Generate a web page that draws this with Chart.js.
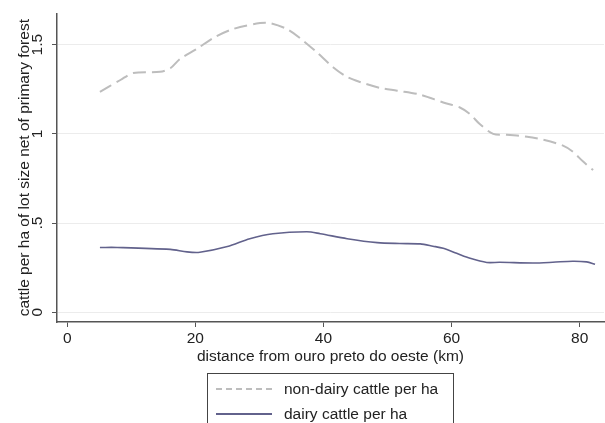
<!DOCTYPE html>
<html>
<head>
<meta charset="utf-8">
<script src="https://cdn.jsdelivr.net/npm/chart.js@4"></script>
<style>
  html, body { margin: 0; padding: 0; background: #fff; }
  #wrap { position: relative; width: 605px; height: 423px; overflow: hidden; }
  #legend {
    position: absolute; left: 207px; top: 373px; width: 245px; height: 70px;
    border: 1px solid #444; font: 15.5px "Liberation Sans", Arial, sans-serif; color: #222;
  }
  .item { position: absolute; left: 8px; height: 18px; line-height: 18px; }
  .swatch { position: absolute; left: 0; top: 8px; width: 56px; }
  .item span { position: absolute; left: 68px; white-space: nowrap; top: 0; }
</style>
</head>
<body>
<div id="wrap">
  <canvas id="wykres" width="605" height="423"></canvas>
  <div id="legend"></div>
</div>
<script>
// dane
const xNonDairy = [5.1, 8.3, 10.3, 14.5, 16.1, 17.6, 20.3, 22.8, 25.9, 30.1, 31.7, 34.3, 36.3, 39.0, 41.5, 43.7, 45.7, 48.8, 51.5, 55.1, 58.7, 61.3, 62.9, 64.4, 66.5, 68.6, 71.8, 74.3, 77.4, 78.9, 80.5, 82.1];
const nonDairy = [1.236, 1.302, 1.341, 1.348, 1.368, 1.420, 1.478, 1.538, 1.588, 1.621, 1.621, 1.588, 1.538, 1.456, 1.374, 1.319, 1.291, 1.258, 1.242, 1.220, 1.176, 1.148, 1.110, 1.055, 1.000, 0.995, 0.984, 0.967, 0.934, 0.901, 0.846, 0.797];
const xDairy = [5.1, 7.8, 16.1, 18.7, 20.7, 25.0, 28.5, 32.1, 37.4, 39.5, 43.7, 48.4, 51.9, 55.1, 57.1, 58.7, 60.8, 62.9, 65.5, 67.5, 72.7, 75.8, 78.9, 81.1, 82.4];
const dairy = [0.363, 0.363, 0.352, 0.338, 0.336, 0.368, 0.412, 0.440, 0.451, 0.440, 0.412, 0.390, 0.385, 0.383, 0.370, 0.358, 0.330, 0.302, 0.279, 0.280, 0.276, 0.280, 0.286, 0.282, 0.269];
const seriesLabels = ['non-dairy cattle per ha', 'dairy cattle per ha'];
const xTicks = [0, 20, 40, 60, 80];
const yTicks = [0, 0.5, 1, 1.5];
const yTickLabels = ['0', '.5', '1', '1.5'];
const xTitle = 'distance from ouro preto do oeste (km)';
const yTitle = 'cattle per ha of lot size net of primary forest';

function toPoints(xs, ys) {
    let pts = [];
    for (let i = 0; i < xs.length; i++) {
        pts = [...pts, { x: xs[i], y: ys[i] }];
    }
    return pts;
}

const font = { family: '"Liberation Sans", Arial, sans-serif', size: 15.5 };
const axisColor = '#555';
const dashColor = '#bdbdbd';
const solidColor = '#62628c';

const ctx = document.getElementById('wykres').getContext('2d');
window.chart = new Chart(ctx, {
    type: 'line',
    data: {
        datasets: [{
            label: seriesLabels[0],
            data: toPoints(xNonDairy, nonDairy),
            borderColor: dashColor,
            borderWidth: 2,
            borderDash: [13, 6],
            pointRadius: 0,
            tension: 0.3,
            fill: false
        }, {
            label: seriesLabels[1],
            data: toPoints(xDairy, dairy),
            borderColor: solidColor,
            borderWidth: 1.6,
            pointRadius: 0,
            tension: 0.3,
            fill: false
        }]
    },
    options: {
        responsive: false,
        animation: false,
        layout: { padding: { top: 7, right: 1, bottom: 57, left: 0 } },
        plugins: { legend: { display: false }, tooltip: { enabled: false } },
        scales: {
            x: {
                type: 'linear',
                min: -1.6,
                max: 83.8,
                afterBuildTicks: s => { s.ticks = xTicks.map(v => ({ value: v })); },
                afterFit: s => { s.height = 44; },
                grid: { drawOnChartArea: false, drawTicks: true, tickLength: 5, tickColor: axisColor },
                border: { color: axisColor, width: 1.5 },
                ticks: { font: font, color: '#222', padding: 2, maxRotation: 0 },
                title: { display: true, text: xTitle, font: font, color: '#222', padding: { top: 0, bottom: 0 } }
            },
            y: {
                type: 'linear',
                min: -0.055,
                max: 1.676,
                afterBuildTicks: s => { s.ticks = yTicks.map(v => ({ value: v })); },
                afterFit: s => { s.width = 57; },
                grid: { color: '#ececec', lineWidth: 1, drawTicks: true, tickLength: 5, tickColor: axisColor },
                border: { color: axisColor, width: 1.5 },
                ticks: {
                    font: font, color: '#222', padding: 4, minRotation: 90, maxRotation: 90, crossAlign: 'center',
                    callback: (v) => yTickLabels[yTicks.indexOf(v)]
                },
                title: { display: true, text: yTitle, font: font, color: '#222', padding: { top: 15, bottom: 0 } }
            }
        }
    }
});

// legenda w HTML
const legend = document.getElementById('legend');
const styles = ['2px dashed ' + dashColor, '2px solid ' + solidColor];
const tops = [6, 31];
for (let i = 0; i < seriesLabels.length; i++) {
    const item = document.createElement('div');
    item.className = 'item';
    item.style.top = tops[i] + 'px';
    const sw = document.createElement('div');
    sw.className = 'swatch';
    sw.style.borderTop = styles[i];
    const tx = document.createElement('span');
    tx.textContent = seriesLabels[i];
    item.appendChild(sw);
    item.appendChild(tx);
    legend.appendChild(item);
}
</script>
</body>
</html>
